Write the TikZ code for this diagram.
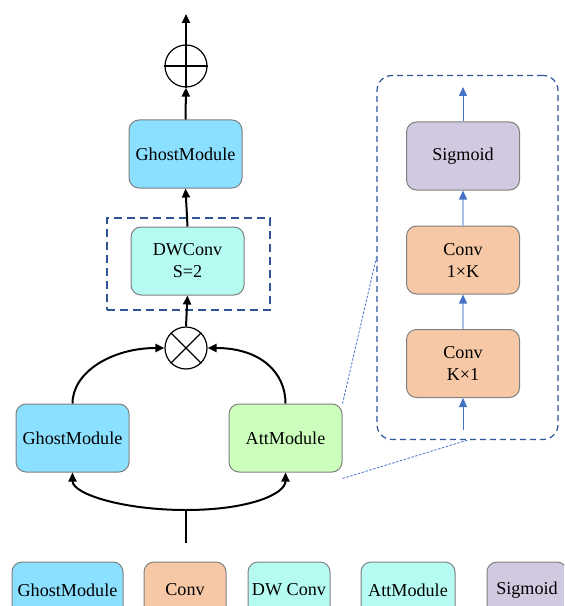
\documentclass[tikz,border=0pt]{standalone}
\usepackage{fontspec}
\setmainfont{Liberation Serif}
\usetikzlibrary{arrows.meta}
\definecolor{ghostblue}{HTML}{8BDFFF}
\definecolor{dwcyan}{HTML}{B5FBF1}
\definecolor{attgreen}{HTML}{CDFFBC}
\definecolor{convorange}{HTML}{F6C8A6}
\definecolor{sigpurple}{HTML}{D1C9E0}
\definecolor{boxgray}{HTML}{808080}
\definecolor{framedark}{HTML}{2F5597}
\definecolor{flowblue}{HTML}{4472C4}
\definecolor{flowlight}{HTML}{A8BFE6}
\newlength{\pxu}
\setlength{\pxu}{0.75pt}
\begin{document}
\begin{tikzpicture}[x=0.75pt,y=-0.75pt,
  block/.style={draw=boxgray, line width=1\pxu, rounded corners=10\pxu,
    minimum width=113\pxu, minimum height=68\pxu, align=center, inner sep=0pt,
    font=\fontsize{13.6}{16.5}\selectfont},
  opnode/.style={draw, circle, line width=1.2\pxu, minimum size=42\pxu, inner sep=0pt},
  arr/.style={line width=2\pxu, -{Triangle[length=6.75pt,width=6pt]}},
  plainline/.style={line width=2\pxu},
  barr/.style={draw=flowblue, line width=1\pxu, -{Triangle[length=6.75pt,width=6pt,color=flowblue]}},
  barrlight/.style={draw=flowlight, line width=1.2\pxu, -{Triangle[length=6.75pt,width=6pt,color=flowblue]}},
  zoomline/.style={draw=flowblue, line width=0.8\pxu, dash pattern=on 2.5\pxu off 1.5\pxu},
]
\useasboundingbox (0,0) rectangle (564,606);
\clip (0,0) rectangle (564,606);

% main branch
\coordinate (topout) at (186,14);
\node[opnode] (plus) at (186,66) {};
\draw[line width=1.2\pxu] (plus.north) -- (plus.south) (plus.west) -- (plus.east);
\node[block, fill=ghostblue] (gmtop) at (185.5,154) {GhostModule};
\node[draw=framedark, line width=1.3\pxu, dash pattern=on 8\pxu off 5\pxu,
      minimum width=163\pxu, minimum height=92\pxu, inner sep=0pt] (dwframe) at (188.5,264) {};
\node[block, fill=dwcyan] (dw) at (187.5,261) {DWConv\\S=2};
\node[opnode] (mul) at (186,348) {};
\draw[line width=1.2\pxu] (mul.north east) -- (mul.south west) (mul.north west) -- (mul.south east);
\node[block, fill=ghostblue] (gmleft) at (72.5,438) {GhostModule};
\node[block, fill=attgreen] (att) at (285.5,438) {AttModule};
\coordinate (split) at (186,510);
\coordinate (input) at (186,543);

\draw[arr] (plus.north) -- (topout);
\draw[arr] (gmtop.north) -- (plus.south);
\draw[arr] (dw.north) -- (gmtop.south);
\draw[arr] (mul.north) -- (dw.south);
\draw[arr] (gmleft.north) .. controls (72.5,372) and (112,348) .. (mul.west);
\draw[arr] (att.north) .. controls (285.5,372) and (260,348) .. (mul.east);
\draw[plainline] (input) -- (split);
\draw[arr] (split) .. controls (123,510) and (72.5,494) .. (gmleft.south);
\draw[arr] (split) .. controls (249,510) and (285.5,494) .. (att.south);

% attention module detail
\node[draw=framedark, line width=1.2\pxu, dash pattern=on 6\pxu off 4\pxu,
      rounded corners=15\pxu, minimum width=181\pxu, minimum height=364\pxu,
      inner sep=0pt] (panel) at (467.5,257.5) {};
\node[block, fill=sigpurple] (sig) at (463,156) {Sigmoid};
\node[block, fill=convorange] (conv1k) at (463,260) {Conv\\1×K};
\node[block, fill=convorange] (convk1) at (463,363.5) {Conv\\K×1};
\coordinate (panelout) at (463,87);
\coordinate (panelin) at (463,430);
\draw[barr] (sig.north) -- (panelout);
\draw[barrlight] (conv1k.north) -- (sig.south);
\draw[barrlight] (convk1.north) -- (conv1k.south);
\draw[barr] (panelin) -- (convk1.south);
\draw[zoomline] (att.north east) -- (panel.west);
\draw[zoomline] ([yshift=-6\pxu]att.south east) -- (panel.south);

% legend
\node[block, fill=ghostblue, minimum width=111\pxu, minimum height=56\pxu] (lgghost) at (67.5,590) {GhostModule};
\node[block, fill=convorange, minimum width=82\pxu, minimum height=56\pxu] (lgconv) at (185,590) {Conv};
\node[block, fill=dwcyan, minimum width=82\pxu, minimum height=56\pxu] (lgdw) at (289,590) {DW Conv};
\node[block, fill=dwcyan, minimum width=94\pxu, minimum height=56\pxu] (lgatt) at (408,590) {AttModule};
\node[block, fill=sigpurple, minimum width=80\pxu, minimum height=56\pxu] (lgsig) at (527,590) {Sigmoid};
\end{tikzpicture}
\end{document}
